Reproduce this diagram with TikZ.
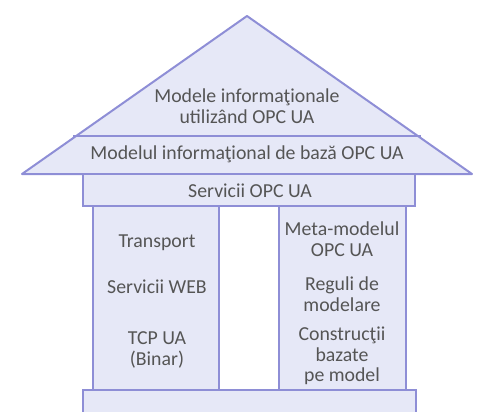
\documentclass[tikz,border=0pt]{standalone}
\usepackage{fontspec}
\setmainfont{Carlito}
\usepackage{xcolor}
\usepackage{tikz}
\definecolor{OPCLine}{HTML}{8E8ED6}
\definecolor{OPCFill}{HTML}{E6E8F7}
\definecolor{OPCText}{HTML}{555555}

\begin{document}
\begin{tikzpicture}[
    x=0.5pt, y=-0.5pt,
    block/.style={draw=OPCLine, fill=OPCFill, line width=1pt},
    gap/.style={draw=OPCLine, fill=white, line width=1pt},
    txt/.style={text=OPCText, font=\fontsize{9.9}{10.2}\selectfont, align=center, inner sep=0pt}
]
    \useasboundingbox (0,0) rectangle (483,412);
    \clip (0,0) rectangle (483,412);

    % roof and the information model band
    \draw[block, line join=round] (22,174) -- (247,16) -- (472,174) -- cycle;
    \draw[draw=OPCLine, line width=1pt] (73,136) -- (421,136);

    % services, pillars, base
    \draw[block] (83,174) rectangle (415,206);
    \draw[gap] (219,206) rectangle (279,390);
    \draw[block] (93,206) rectangle (219,390);
    \draw[block] (279,206) rectangle (406,390);
    \draw[block] (83,390) rectangle (416,430);

    \node[txt] (roofText) at (247,106) {Modele informaţionale\\utilizând OPC UA};
    \node[txt] (infoModel) at (247,154) {Modelul informaţional de bază OPC UA};
    \node[txt] (services) at (250,191) {Servicii OPC UA};
    \node[txt] (transport) at (157,243) {Transport};
    \node[txt] (webServices) at (157,287) {Servicii WEB};
    \node[txt] (tcpBinary) at (157,350) {TCP UA\\(Binar)};
    \node[txt] (metaModel) at (342,239) {Meta-modelul\\OPC UA};
    \node[txt] (rules) at (342,294) {Reguli de\\modelare};
    \node[txt] (constructs) at (342,356) {Construcţii\\bazate\\pe model};
\end{tikzpicture}
\end{document}
